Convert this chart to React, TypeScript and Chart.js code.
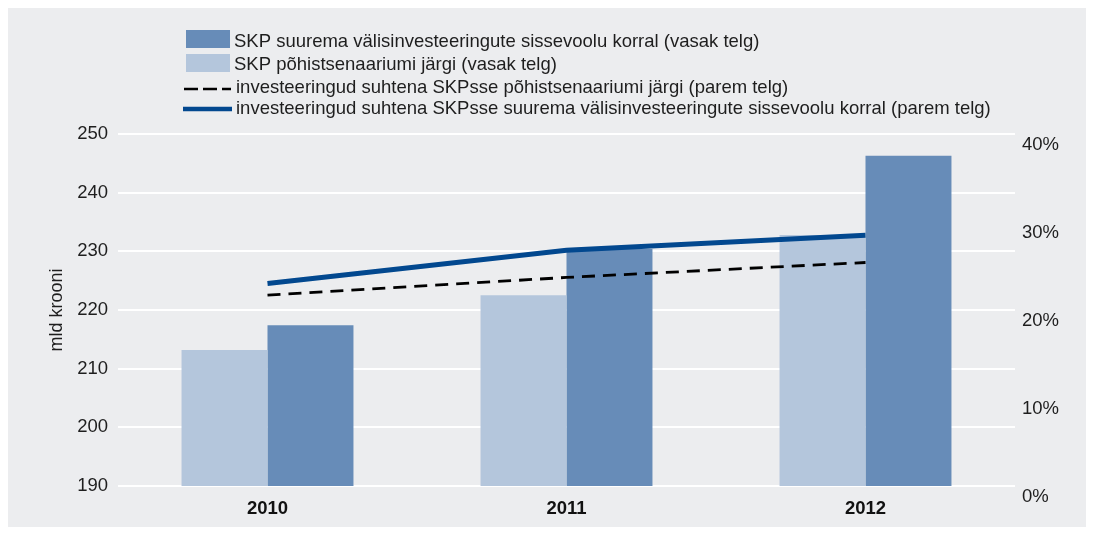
import React, { useEffect, useRef } from "react";
import { Chart, registerables } from "chart.js";

Chart.register(...registerables);

const categories = ["2010", "2011", "2012"];
const gdpBaseline = [213.2, 222.5, 232.8];
const gdpHighFdi = [217.4, 230.4, 246.3];
const invBaseline = [21.7, 23.7, 25.4];
const invHighFdi = [23.0, 26.8, 28.5];
const leftTicks = [190, 200, 210, 220, 230, 240, 250];
const rightTicks = [0, 10, 20, 30, 40];

const labelHighFdiGdp = "SKP suurema välisinvesteeringute sissevoolu korral (vasak telg)";
const labelBaseGdp = "SKP põhistsenaariumi järgi (vasak telg)";
const labelBaseInv = "investeeringud suhtena SKPsse põhistsenaariumi järgi (parem telg)";
const labelHighInv = "investeeringud suhtena SKPsse suurema välisinvesteeringute sissevoolu korral (parem telg)";

const FONT = "'Liberation Sans', Arial, Helvetica, sans-serif";
const FS = 18.5;
const DARK = "#678cb8";
const LIGHT = "#b4c6dc";
const BLUE = "#02488f";
const TEXT = "#1e1e1e";

const legendPlugin = {
  id: "customLegend",
  afterDraw(chart: any) {
    const ctx = chart.ctx;
    const ds = chart.data.datasets;
    const rows = [
      { ds: ds[1], kind: "box", y: 31, ty: 34 },
      { ds: ds[0], kind: "box", y: 55, ty: 57 },
      { ds: ds[2], kind: "dash", y: 81, ty: 80 },
      { ds: ds[3], kind: "line", y: 101, ty: 101 },
    ];
    ctx.save();
    ctx.font = `${FS}px ${FONT}`;
    ctx.textBaseline = "middle";
    ctx.fillStyle = TEXT;
    for (const r of rows) {
      if (r.kind === "box") {
        ctx.fillStyle = r.ds.backgroundColor;
        ctx.fillRect(178, r.y - 9, 44, 18);
        ctx.fillStyle = TEXT;
        ctx.fillText(r.ds.label, 226, r.ty);
      } else if (r.kind === "dash") {
        ctx.strokeStyle = "#000";
        ctx.lineWidth = 2.5;
        ctx.setLineDash([14, 5]);
        ctx.beginPath();
        ctx.moveTo(176, r.y);
        ctx.lineTo(223, r.y);
        ctx.stroke();
        ctx.setLineDash([]);
        ctx.fillStyle = TEXT;
        ctx.fillText(r.ds.label, 228, r.ty);
      } else {
        ctx.strokeStyle = BLUE;
        ctx.lineWidth = 4.5;
        ctx.beginPath();
        ctx.moveTo(175, r.y);
        ctx.lineTo(224, r.y);
        ctx.stroke();
        ctx.fillStyle = TEXT;
        ctx.fillText(r.ds.label, 228, r.ty);
      }
    }
    ctx.restore();
  },
};

export default function App() {
  const ref = useRef<HTMLCanvasElement | null>(null);
  useEffect(() => {
    if (!ref.current) return;
    const chart = new Chart(ref.current, {
      type: "bar",
      data: {
        labels: categories,
        datasets: [
          {
            type: "bar",
            label: labelBaseGdp,
            data: gdpBaseline,
            backgroundColor: LIGHT,
            yAxisID: "y",
            order: 1,
            categoryPercentage: 0.575,
            barPercentage: 1,
          },
          {
            type: "bar",
            label: labelHighFdiGdp,
            data: gdpHighFdi,
            backgroundColor: DARK,
            yAxisID: "y",
            order: 2,
            categoryPercentage: 0.575,
            barPercentage: 1,
          },
          {
            type: "line",
            label: labelBaseInv,
            data: invBaseline,
            borderColor: "#000",
            borderWidth: 2.8,
            borderDash: [13, 8],
            pointRadius: 0,
            fill: false,
            tension: 0,
            yAxisID: "y1",
            order: 0,
          },
          {
            type: "line",
            label: labelHighInv,
            data: invHighFdi,
            borderColor: BLUE,
            borderWidth: 5,
            pointRadius: 0,
            fill: false,
            tension: 0,
            yAxisID: "y1",
            order: 0,
          },
        ] as any,
      },
      options: {
        animation: false,
        responsive: true,
        maintainAspectRatio: false,
        layout: { padding: { top: 126, left: 0, right: 0, bottom: 0 } },
        plugins: {
          legend: { display: false },
          tooltip: { enabled: false },
        },
        scales: {
          x: {
            grid: { display: false },
            border: { display: false },
            ticks: {
              color: "#111",
              font: { family: FONT, size: FS, weight: "bold" },
              padding: 4,
            },
            afterFit: (s: any) => {
              s.height = 41;
            },
          },
          y: {
            position: "left",
            min: 190,
            max: 250,
            afterBuildTicks: (s: any) => {
              s.ticks = leftTicks.map((v) => ({ value: v }));
            },
            grid: { color: "#ffffff", lineWidth: 2, drawTicks: false },
            border: { display: false },
            ticks: {
              color: TEXT,
              font: { family: FONT, size: FS },
              padding: 10,
            },
            title: {
              display: true,
              text: "mld krooni",
              color: TEXT,
              font: { family: FONT, size: 18 },
              padding: { top: 38, bottom: 0 },
            },
            afterFit: (s: any) => {
              s.width = 110;
            },
          },
          y1: {
            position: "right",
            min: 0,
            max: 40,
            afterBuildTicks: (s: any) => {
              s.ticks = rightTicks.map((v) => ({ value: v }));
            },
            grid: { display: false, drawTicks: false },
            border: { display: false },
            ticks: {
              color: TEXT,
              font: { family: FONT, size: FS },
              padding: 7,
              labelOffset: 11,
              callback: (v: any) => `${v}%`,
            },
            afterFit: (s: any) => {
              s.width = 73;
            },
          },
        },
      } as any,
      plugins: [legendPlugin],
    });
    return () => chart.destroy();
  }, []);

  return (
    <div style={{ width: 1080, height: 519, background: "#ecedef", position: "relative" }}>
      <canvas ref={ref} />
    </div>
  );
}
